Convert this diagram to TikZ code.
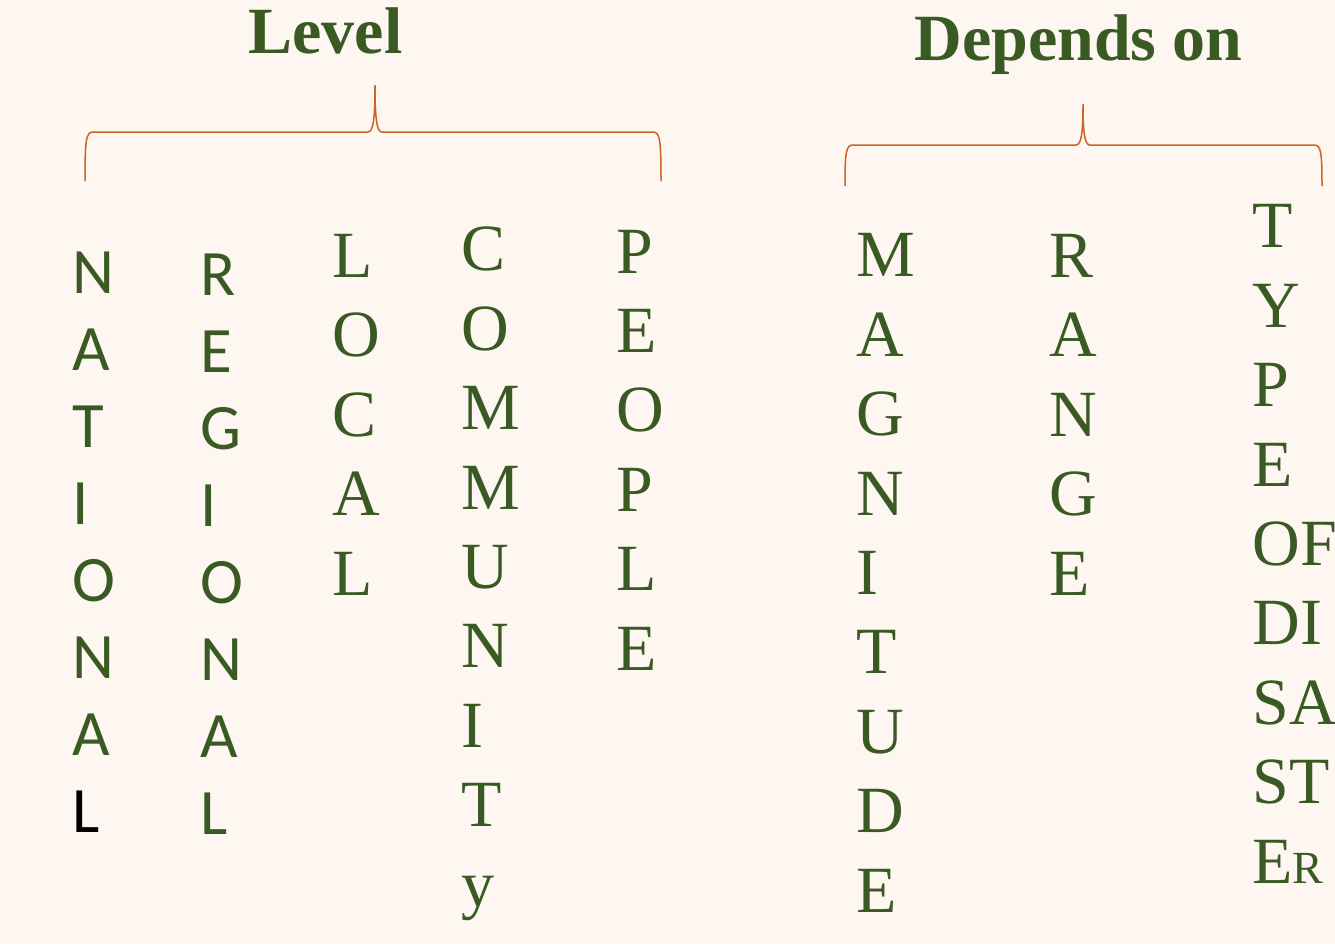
\documentclass[tikz,border=0pt]{standalone}
\usepackage{fontspec}
\setmainfont{Liberation Serif}
\newfontfamily\calibrifont{Carlito}
\definecolor{leafgreen}{RGB}{58,90,35}
\definecolor{bracerust}{RGB}{205,100,35}
\definecolor{peach}{RGB}{253,246,241}

\begin{document}
\begin{tikzpicture}[
    x=0.5pt, y=-0.5pt,
    heading/.style={anchor=base west, inner sep=0pt, text=leafgreen, font=\fontsize{33}{40}\selectfont\bfseries},
    serifcol/.style={anchor=base west, inner sep=0pt, align=left, text=leafgreen, font=\fontsize{33}{39.7}\selectfont},
    sanscol/.style={anchor=base west, inner sep=0pt, align=left, text=leafgreen, font=\calibrifont\fontsize{32.4}{38.5}\selectfont},
    brace/.style={draw=bracerust, line width=0.75pt}
]
    % Background
    \fill[peach] (0,0) rectangle (1335,944);
    \useasboundingbox (0,0) rectangle (1335,944);

    % Headings
    \node[heading] (level) at (248,53) {Level};
    \node[heading] (depends) at (914,60) {Depends on};

    % Braces
    \coordinate (levtip) at (375,85);
    \coordinate (levleft) at (85,181);
    \coordinate (levright) at (661,181);
    \draw[brace] (levleft) .. controls (85,140) and (86,132) .. (93,132) -- (368,132)
        .. controls (373,132) and (375,120) .. (levtip)
        .. controls (375,120) and (377,132) .. (382,132) -- (653,132)
        .. controls (660,132) and (661,140) .. (levright);
    \coordinate (deptip) at (1083,104);
    \coordinate (depleft) at (845,186);
    \coordinate (depright) at (1322,186);
    \draw[brace] (depleft) .. controls (845,152) and (846,145) .. (853,145) -- (1076,145)
        .. controls (1081,145) and (1083,135) .. (deptip)
        .. controls (1083,135) and (1085,145) .. (1090,145) -- (1314,145)
        .. controls (1321,145) and (1322,152) .. (depright);

    % Level columns (anchored at the baseline of the last letter)
    \node[sanscol] (national) at (72,832) {N\\A\\T\\I\\O\\N\\A\\{\color{black}L}};
    \node[sanscol] (regional) at (200,834) {R\\E\\G\\I\\O\\N\\A\\L};
    \node[serifcol] (local) at (332,595) {L\\O\\C\\A\\L};
    \node[serifcol] (community) at (461,906) {C\\O\\M\\M\\U\\N\\I\\T\\y};
    \node[serifcol] (people) at (616,670) {P\\E\\O\\P\\L\\E};

    % Depends-on columns
    \node[serifcol] (magnitude) at (856,912) {M\\A\\G\\N\\I\\T\\U\\D\\E};
    \node[serifcol] (range) at (1049,595) {R\\A\\N\\G\\E};
    \node[serifcol] (disaster) at (1252,883) {T\\Y\\P\\E\\OF\\DI\\SA\\ST\\E{\fontsize{23}{39.7}\selectfont R}};
\end{tikzpicture}
\end{document}
